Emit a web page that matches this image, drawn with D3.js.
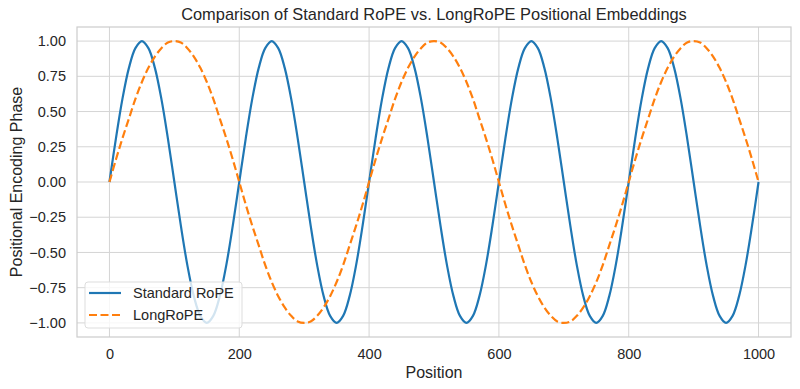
<!DOCTYPE html>
<html>
<head>
<meta charset="utf-8">
<script src="https://cdn.jsdelivr.net/npm/d3@7"></script>
<style>
  body { margin: 0; background: #fff; }
  svg { font-family: "Liberation Sans", Arial, sans-serif; }
</style>
</head>
<body>
<svg id="chartArea" width="800" height="389"></svg>
<script>
const positions = d3.range(0, 1001, 10);

const standardRope = [
  0, .31, .59, .81, .95, 1, .95, .81, .59, .31, 0, -.31, -.59, -.81, -.95, -1, -.95, -.81, -.59, -.31,
  0, .31, .59, .81, .95, 1, .95, .81, .59, .31, 0, -.31, -.59, -.81, -.95, -1, -.95, -.81, -.59, -.31,
  0, .31, .59, .81, .95, 1, .95, .81, .59, .31, 0, -.31, -.59, -.81, -.95, -1, -.95, -.81, -.59, -.31,
  0, .31, .59, .81, .95, 1, .95, .81, .59, .31, 0, -.31, -.59, -.81, -.95, -1, -.95, -.81, -.59, -.31,
  0, .31, .59, .81, .95, 1, .95, .81, .59, .31, 0, -.31, -.59, -.81, -.95, -1, -.95, -.81, -.59, -.31,
  0
];

const longRope = [
  0, .16, .31, .45, .59, .71, .81, .89, .95, .99, 1, .99, .95, .89, .81, .71, .59, .45, .31, .16,
  0, -.16, -.31, -.45, -.59, -.71, -.81, -.89, -.95, -.99, -1, -.99, -.95, -.89, -.81, -.71, -.59, -.45, -.31, -.16,
  0, .16, .31, .45, .59, .71, .81, .89, .95, .99, 1, .99, .95, .89, .81, .71, .59, .45, .31, .16,
  0, -.16, -.31, -.45, -.59, -.71, -.81, -.89, -.95, -.99, -1, -.99, -.95, -.89, -.81, -.71, -.59, -.45, -.31, -.16,
  0, .16, .31, .45, .59, .71, .81, .89, .95, .99, 1, .99, .95, .89, .81, .71, .59, .45, .31, .16,
  0
];

const xTicks = [0, 200, 400, 600, 800, 1000];
const yTicks = [-1, -0.75, -0.5, -0.25, 0, 0.25, 0.5, 0.75, 1];
const seriesNames = ["Standard RoPE", "LongRoPE"];

const svg = d3.select("#chartArea");
const margin = {top: 27, right: 9, bottom: 52, left: 77};
const cWidth = 800 - margin.left - margin.right;
const cHeight = 389 - margin.top - margin.bottom;

const g = svg.append("g")
    .attr("transform", `translate(${margin.left}, ${margin.top})`);

const scaleX = d3.scaleLinear().domain([-50, 1050]).range([0, cWidth]);
const scaleY = d3.scaleLinear().domain([-1.1, 1.1]).range([cHeight, 0]);

// grid
g.append("g").selectAll("line").data(xTicks).enter().append("line")
    .attr("x1", d => scaleX(d)).attr("x2", d => scaleX(d))
    .attr("y1", 0).attr("y2", cHeight)
    .attr("stroke", "#d5d5d5").attr("stroke-width", 1);
g.append("g").selectAll("line").data(yTicks).enter().append("line")
    .attr("y1", d => scaleY(d)).attr("y2", d => scaleY(d))
    .attr("x1", 0).attr("x2", cWidth)
    .attr("stroke", "#d5d5d5").attr("stroke-width", 1);

// frame
g.append("rect")
    .attr("width", cWidth).attr("height", cHeight)
    .attr("fill", "none").attr("stroke", "#cccccc").attr("stroke-width", 1.2);

// axes
const xAxis = g.append("g")
    .attr("transform", `translate(0, ${cHeight})`)
    .call(d3.axisBottom(scaleX).tickValues(xTicks).tickSize(0).tickPadding(11.5)
        .tickFormat(d3.format("d")));
const yAxis = g.append("g")
    .call(d3.axisLeft(scaleY).tickValues(yTicks).tickSize(0).tickPadding(11)
        .tickFormat(d => d3.format(".2f")(d).replace("-", "\u2212")));
[xAxis, yAxis].forEach(a => {
    a.select(".domain").remove();
    a.selectAll("text").attr("fill", "#262626").style("font-size", "14.5px")
        .style("font-family", "'Liberation Sans', Arial, sans-serif");
});

const colors = d3.scaleOrdinal().domain(seriesNames).range(["#1f77b4", "#ff7f0e"]);
const seriesData = [standardRope, longRope];

const lineGenerator = d3.line()
    .x((d, i) => scaleX(positions[i]))
    .y(d => scaleY(d))
    .curve(d3.curveCatmullRom);

seriesNames.forEach((name, k) => {
    g.append("path")
        .datum(seriesData[k])
        .attr("fill", "none")
        .attr("stroke", colors(name))
        .attr("stroke-width", 2.2)
        .attr("stroke-dasharray", k === 1 ? "8,3.5" : null)
        .attr("d", lineGenerator);
});

// titles
svg.append("text")
    .attr("x", margin.left + cWidth / 2).attr("y", 20)
    .attr("text-anchor", "middle").attr("fill", "#262626")
    .style("font-size", "16.4px")
    .text("Comparison of Standard RoPE vs. LongRoPE Positional Embeddings");
svg.append("text")
    .attr("x", margin.left + cWidth / 2).attr("y", 378)
    .attr("text-anchor", "middle").attr("fill", "#262626")
    .style("font-size", "16px")
    .text("Position");
svg.append("text")
    .attr("transform", `translate(22, ${margin.top + cHeight / 2}) rotate(-90)`)
    .attr("text-anchor", "middle").attr("fill", "#262626")
    .style("font-size", "16px")
    .text("Positional Encoding Phase");

// legend
const legend = g.append("g").attr("transform", "translate(8, 255)");
legend.append("rect")
    .attr("width", 157).attr("height", 46).attr("rx", 3)
    .attr("fill", "white").attr("fill-opacity", 0.8)
    .attr("stroke", "#dddddd").attr("stroke-width", 1);
const items = legend.selectAll(".item").data(seriesNames).enter().append("g")
    .attr("transform", (d, i) => `translate(0, ${11 + i * 22})`);
items.append("line")
    .attr("x1", 4).attr("x2", 36)
    .attr("stroke", d => colors(d)).attr("stroke-width", 2.2)
    .attr("stroke-dasharray", (d, i) => i === 1 ? "8,3.5" : null);
items.append("text")
    .attr("x", 48).attr("y", 5)
    .attr("fill", "#262626").style("font-size", "14.5px")
    .text(d => d);
</script>
</body>
</html>
